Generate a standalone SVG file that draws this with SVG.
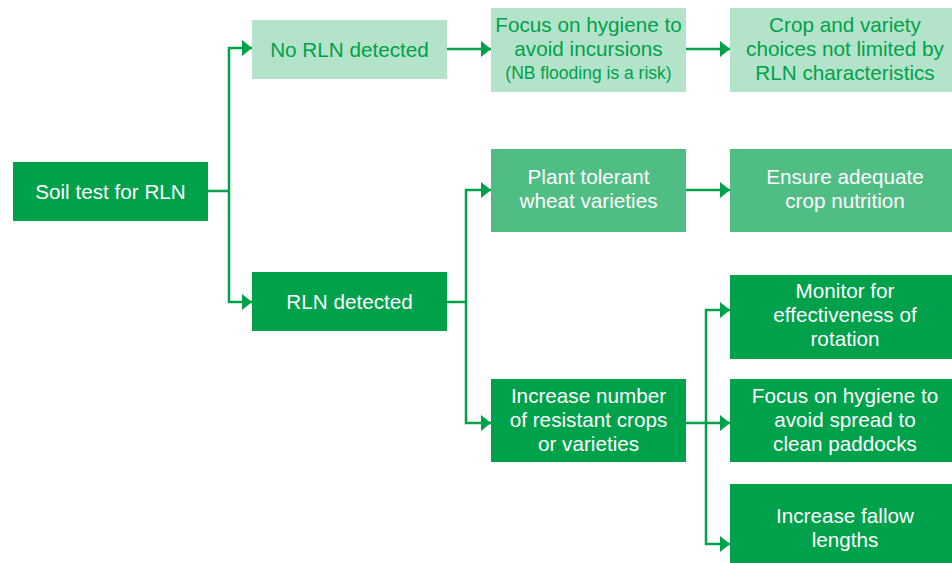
<svg xmlns="http://www.w3.org/2000/svg" width="952" height="563" viewBox="0 0 952 563">
<defs>
<style>
.dark{fill:#00a14b}
.mid{fill:#4fbd84}
.light{fill:#b3e3c9}
text{font-family:"Liberation Sans",Arial,sans-serif;font-size:20.7px;text-anchor:middle}
.w{fill:#ffffff}
.g{fill:#00a14b}
.sm{font-size:17.5px}
.c{fill:none;stroke:#00a14b;stroke-width:2.5}
</style>
<marker id="ah" viewBox="0 0 10 16" refX="10" refY="8" markerWidth="10" markerHeight="16" markerUnits="userSpaceOnUse" orient="auto">
<path d="M0,0 L10,8 L0,16 Z" fill="#00a14b"/>
</marker>
</defs>
<rect width="952" height="563" fill="#ffffff"/>
<g id="connectors">
<path class="c" d="M208,191 H229"/>
<path class="c" d="M229,191 V48 H252" marker-end="url(#ah)"/>
<path class="c" d="M229,191 V302 H252" marker-end="url(#ah)"/>
<path class="c" d="M447,49 H491" marker-end="url(#ah)"/>
<path class="c" d="M686,49 H730" marker-end="url(#ah)"/>
<path class="c" d="M447,302 H466"/>
<path class="c" d="M466,302 V190 H491" marker-end="url(#ah)"/>
<path class="c" d="M466,302 V423 H491" marker-end="url(#ah)"/>
<path class="c" d="M686,190 H730" marker-end="url(#ah)"/>
<path class="c" d="M686,423 H706"/>
<path class="c" d="M706,423 V310 H730" marker-end="url(#ah)"/>
<path class="c" d="M706,423 H730" marker-end="url(#ah)"/>
<path class="c" d="M706,423 V544 H730" marker-end="url(#ah)"/>
</g>
<g id="soil">
<rect class="dark" x="13" y="162" width="195" height="59"/>
<text class="w" x="110.5" y="199">Soil test for RLN</text>
</g>
<g id="no-rln">
<rect class="light" x="252" y="20" width="195" height="59"/>
<text class="g" x="349.5" y="57">No RLN detected</text>
</g>
<g id="rln">
<rect class="dark" x="252" y="272" width="195" height="59"/>
<text class="w" x="349.5" y="309">RLN detected</text>
</g>
<g id="hygiene-incursions">
<rect class="light" x="491" y="8" width="195" height="84"/>
<text class="g" x="588.5" y="32">Focus on hygiene to</text>
<text class="g" x="588.5" y="56">avoid incursions</text>
<text class="g sm" x="588.5" y="79">(NB flooding is a risk)</text>
</g>
<g id="crop-choices">
<rect class="light" x="730" y="8" width="230" height="84"/>
<text class="g" x="845" y="32">Crop and variety</text>
<text class="g" x="845" y="56">choices not limited by</text>
<text class="g" x="845" y="80">RLN characteristics</text>
</g>
<g id="plant-tolerant">
<rect class="mid" x="491" y="149" width="195" height="83"/>
<text class="w" x="588.5" y="184">Plant tolerant</text>
<text class="w" x="588.5" y="208">wheat varieties</text>
</g>
<g id="nutrition">
<rect class="mid" x="730" y="149" width="230" height="83"/>
<text class="w" x="845" y="184">Ensure adequate</text>
<text class="w" x="845" y="208">crop nutrition</text>
</g>
<g id="increase-resistant">
<rect class="dark" x="491" y="379" width="195" height="83"/>
<text class="w" x="588.5" y="403">Increase number</text>
<text class="w" x="588.5" y="427">of resistant crops</text>
<text class="w" x="588.5" y="451">or varieties</text>
</g>
<g id="monitor">
<rect class="dark" x="730" y="275" width="230" height="84"/>
<text class="w" x="845" y="298">Monitor for</text>
<text class="w" x="845" y="322">effectiveness of</text>
<text class="w" x="845" y="346">rotation</text>
</g>
<g id="hygiene-spread">
<rect class="dark" x="730" y="379" width="230" height="83"/>
<text class="w" x="845" y="403">Focus on hygiene to</text>
<text class="w" x="845" y="427">avoid spread to</text>
<text class="w" x="845" y="451">clean paddocks</text>
</g>
<g id="fallow">
<rect class="dark" x="730" y="484" width="230" height="79"/>
<text class="w" x="845" y="523">Increase fallow</text>
<text class="w" x="845" y="547">lengths</text>
</g>
</svg>
